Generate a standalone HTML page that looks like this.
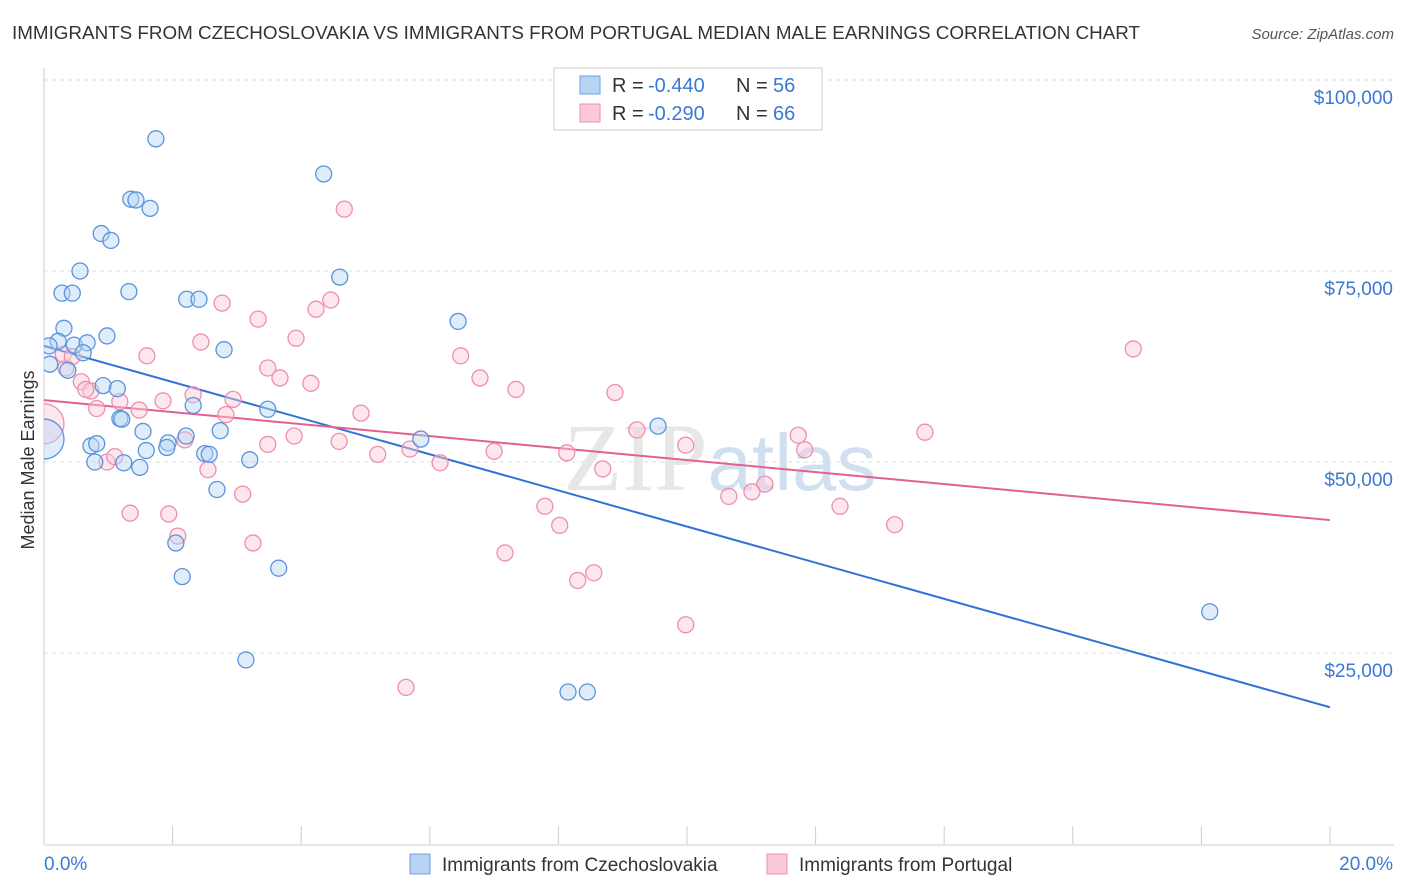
<!DOCTYPE html>
<html><head><meta charset="utf-8"><style>
body{margin:0;background:#fff;font-family:"Liberation Sans",sans-serif;}
svg{display:block}
</style></head><body>
<svg id="chart" width="1406" height="892" xmlns="http://www.w3.org/2000/svg">
<defs><clipPath id="plotclip"><rect x="44" y="60" width="1360" height="790"/></clipPath></defs>
<text x="12" y="39" font-size="18" fill="#333" textLength="1128" lengthAdjust="spacingAndGlyphs">IMMIGRANTS FROM CZECHOSLOVAKIA VS IMMIGRANTS FROM PORTUGAL MEDIAN MALE EARNINGS CORRELATION CHART</text>
<text x="1394" y="39" font-size="15" fill="#555" font-style="italic" text-anchor="end">Source: ZipAtlas.com</text>
<text x="34" y="460" font-size="18" fill="#333" transform="rotate(-90 34 460)" text-anchor="middle">Median Male Earnings</text>
<text x="720" y="490" font-size="96" fill="#ccc" opacity="0.45" text-anchor="middle" font-family="Liberation Serif">ZIP<tspan fill="#9bbbe0" font-family="Liberation Sans" font-size="80">atlas</tspan></text>
<g id="grid"></g><g id="trend"></g><g id="pts" clip-path="url(#plotclip)"></g>
<g>
<rect x="554" y="68" width="268" height="62" fill="#fff" stroke="#ccc"/>
<rect x="580" y="76" width="20" height="18" fill="#b8d4f5" stroke="#6fa0e0"/>
<text x="612" y="92" font-size="20" fill="#333">R =</text>
<text x="648" y="92" font-size="20" fill="#3a78d4">-0.440</text>
<text x="736" y="92" font-size="20" fill="#333">N =</text>
<text x="773" y="92" font-size="20" fill="#3a78d4">56</text>
<rect x="580" y="104" width="20" height="18" fill="#fbc9d8" stroke="#ee90b0"/>
<text x="612" y="120" font-size="20" fill="#333">R =</text>
<text x="648" y="120" font-size="20" fill="#3a78d4">-0.290</text>
<text x="736" y="120" font-size="20" fill="#333">N =</text>
<text x="773" y="120" font-size="20" fill="#3a78d4">66</text>
</g>
<g>
<rect x="410" y="854" width="20" height="20" fill="#b8d4f5" stroke="#6fa0e0"/>
<text x="442" y="871" font-size="19" fill="#333">Immigrants from Czechoslovakia</text>
<rect x="767" y="854" width="20" height="20" fill="#fbc9d8" stroke="#ee90b0"/>
<text x="799" y="871" font-size="19" fill="#333">Immigrants from Portugal</text>
</g>
<text x="44" y="870" font-size="19" fill="#3a78d4">0.0%</text>
<text x="1393" y="870" font-size="19" fill="#3a78d4" text-anchor="end">20.0%</text>
</svg>
<script>
const yTicks=[25000,50000,75000,100000];
const yTickLabels=["$25,000","$50,000","$75,000","$100,000"];
const xTicks=[0,2,4,6,8,10,12,14,16,18,20];
const blueX=[1.74,1.35,1.43,1.65,4.35,0.89,1.04,0.56,4.60,0.28,0.44,1.32,2.22,2.41,0.31,0.98,6.44,0.22,0.08,0.47,0.67,0.61,0.09,2.80,0.37,0.92,1.14,2.32,3.48,1.18,1.21,1.54,2.21,9.55,5.86,2.74,1.93,0.73,0.82,1.59,1.91,2.50,2.57,3.20,0.79,1.24,1.49,2.69,2.05,2.15,3.65,3.14,8.15,8.45,18.13,0.0];
const blueY=[92300,84400,84300,83200,87700,79900,79000,75000,74200,72100,72100,72300,71300,71300,67500,66500,68400,65800,65200,65300,65600,64300,62800,64700,62000,60000,59600,57400,56900,55700,55600,54000,53400,54700,53000,54100,52500,52100,52400,51500,51900,51100,51000,50300,50000,49900,49300,46400,39400,35000,36100,24100,19900,19900,30400,53000];
const blueR=blueY.map((v,i)=>i===55?20:8);
const pinkX=[4.67,4.46,4.23,2.77,3.33,3.92,2.44,1.60,6.48,16.94,0.34,3.48,3.67,4.15,6.78,7.34,8.88,0.58,0.73,2.32,2.94,1.85,1.18,0.82,1.48,2.83,4.93,2.19,3.48,3.89,4.59,5.69,7.00,8.13,9.22,9.98,11.73,11.83,13.70,5.19,6.16,8.69,0.98,1.10,2.55,11.21,11.01,10.65,3.09,7.79,8.02,12.38,13.23,1.34,1.94,2.08,3.25,7.17,8.55,8.30,9.98,5.63,0.0,0.30,0.44,0.65];
const pinkY=[83100,71200,70000,70800,68700,66200,65700,63900,63900,64800,62300,62300,61000,60300,61000,59500,59100,60500,59300,58800,58200,58000,57900,57000,56800,56200,56400,52900,52300,53400,52700,51700,51400,51200,54200,52200,53500,51600,53900,51000,49900,49100,50000,50700,49000,47100,46100,45500,45800,44200,41700,44200,41800,43300,43200,40300,39400,38100,35500,34500,28700,20500,55000,64100,63800,59500];
const pinkR=pinkY.map((v,i)=>i===62?20:8);
const blueTrend=[65200,17900];
const pinkTrend=[58100,42400];
const X0=44,X1=1330,Y0=844,PX=191/25000;
const sx=v=>X0+(v/20)*(X1-X0), sy=v=>Y0-v*PX;
const NS="http://www.w3.org/2000/svg";
function mk(t,a,p){const e=document.createElementNS(NS,t);for(const k in a)e.setAttribute(k,a[k]);p.appendChild(e);return e;}
const grid=document.getElementById('grid');
yTicks.forEach((t,i)=>{
 const l=mk('line',{x1:X0,x2:1394,y1:sy(t),y2:sy(t),stroke:'#ddd','stroke-dasharray':'4 4'},grid);
 
 
 const tx=mk('text',{x:1393,y:sy(t)+24,'font-size':19,fill:'#3a78d4','text-anchor':'end'},grid);
 tx.textContent=yTickLabels[i];
 
 
});
const ax=mk('line',{x1:X0,x2:1394,y1:Y0+1,y2:Y0+1,stroke:'#ccc'},grid);


const ay=mk('line',{x1:X0,x2:X0,y1:68,y2:Y0,stroke:'#ccc'},grid);


xTicks.forEach(t=>{const l=mk('line',{x1:sx(t),x2:sx(t),y1:Y0-18,y2:Y0,stroke:'#ccc'},grid);
 
 });
const pts=document.getElementById('pts');
function series(xs,ys,rs,fill,stroke,name){xs.forEach((x,i)=>{const c=mk('circle',{cx:sx(x),cy:sy(ys[i]),r:rs[i],fill:fill,'fill-opacity':0.45,stroke:stroke,'stroke-width':1.3},pts);
 
 });}
series(pinkX,pinkY,pinkR,'#fbc9d8','#ec8fae','portugal-point');
series(blueX,blueY,blueR,'#b8d4f5','#5b93dc','czechoslovakia-point');
const tr=document.getElementById('trend');
const b=mk('line',{x1:sx(0),y1:sy(blueTrend[0]),x2:sx(20),y2:sy(blueTrend[1]),stroke:'#2f73d6','stroke-width':2},tr);


const p=mk('line',{x1:sx(0),y1:sy(pinkTrend[0]),x2:sx(20),y2:sy(pinkTrend[1]),stroke:'#e4608e','stroke-width':2},tr);


</script>
</body></html>
